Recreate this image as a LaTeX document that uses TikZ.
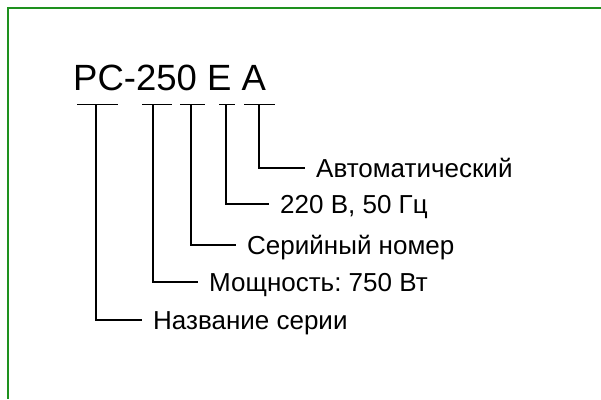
\documentclass[tikz,border=0pt]{standalone}
\usepackage{fontspec}
\setmainfont{Liberation Sans}
\frenchspacing
\definecolor{framegreen}{RGB}{30,145,30}
\begin{document}
\begin{tikzpicture}[x=1pt,y=-1pt,
  lbl/.style={anchor=west,inner xsep=11pt,inner ysep=0pt,text height=18.5pt,text depth=0pt,font=\fontsize{26}{26}\selectfont},
  bar/.style={line width=1.8pt}]
\useasboundingbox (0,0) rectangle (601,399);
\draw[framegreen,line width=2.5pt] (601,8) -- (8,8) -- (8,399);
\node[inner sep=0pt,anchor=base west,font=\fontsize{36.5}{36.5}\selectfont] (model) at (73,90) {PC-250 E A};
\draw[bar] (77,104.5) -- (118,104.5);
\draw[bar] (142,104.5) -- (172,104.5);
\draw[bar] (180,104.5) -- (205,104.5);
\draw[bar] (219,104.5) -- (235,104.5);
\draw[bar] (244,104.5) -- (275,104.5);
\coordinate (series) at (96,104.5);
\coordinate (power) at (153,104.5);
\coordinate (serial) at (191,104.5);
\coordinate (volt) at (226,104.5);
\coordinate (auto) at (259,104.5);
\node[lbl] (autotxt) at (305,168) {Автоматический};
\node[lbl] (volttxt) at (269,204) {220 В, 50 Гц};
\node[lbl] (serialtxt) at (236,245) {Серийный номер};
\node[lbl] (powertxt) at (198,282) {Мощность: 750 Вт};
\node[lbl] (seriestxt) at (142,320) {Название серии};
\draw[bar] (auto) |- (autotxt.west);
\draw[bar] (volt) |- (volttxt.west);
\draw[bar] (serial) |- (serialtxt.west);
\draw[bar] (power) |- (powertxt.west);
\draw[bar] (series) |- (seriestxt.west);
\end{tikzpicture}
\end{document}
